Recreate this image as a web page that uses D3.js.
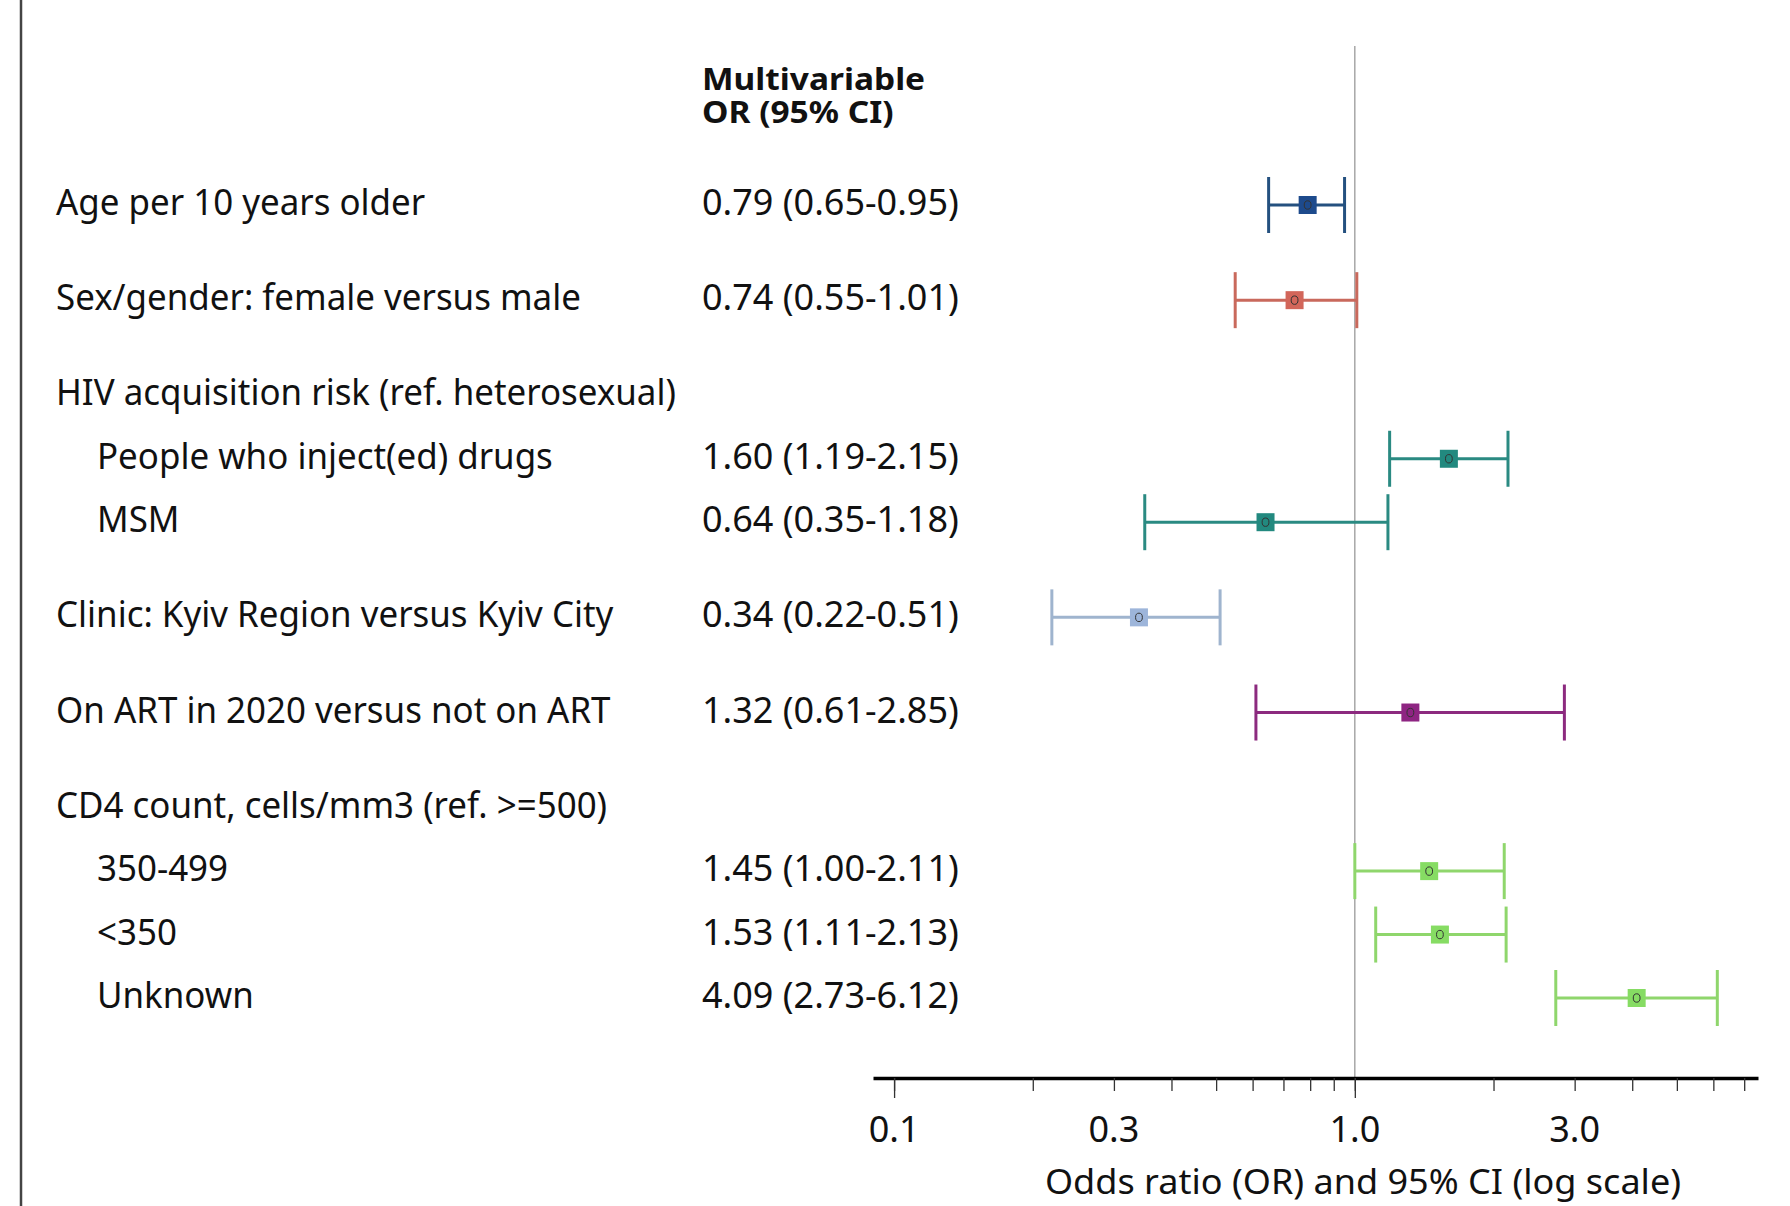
<!DOCTYPE html>
<html>
<head>
<meta charset="utf-8">
<script src="https://cdn.jsdelivr.net/npm/d3@7"></script>
<style>
  html, body { margin: 0; padding: 0; background: #fff; }
  svg { display: block; }
  text { font-family: "Noto Sans", "Open Sans", sans-serif; fill: #111; }
</style>
</head>
<body>
<svg id="chart" width="1790" height="1206"></svg>
<script>
// ---- Data ----
const labels = [
  "Age per 10 years older",
  "Sex/gender: female versus male",
  "HIV acquisition risk (ref. heterosexual)",
  "People who inject(ed) drugs",
  "MSM",
  "Clinic: Kyiv Region versus Kyiv City",
  "On ART in 2020 versus not on ART",
  "CD4 count, cells/mm3 (ref. >=500)",
  "350-499",
  "<350",
  "Unknown"
];
const groups   = [0, 1, 2, 2, 2, 3, 4, 5, 5, 5, 5];
const orValues = [0.79, 0.74, null, 1.60, 0.64, 0.34, 1.32, null, 1.45, 1.53, 4.09];
const ciLow    = [0.65, 0.55, null, 1.19, 0.35, 0.22, 0.61, null, 1.00, 1.11, 2.73];
const ciHigh   = [0.95, 1.01, null, 2.15, 1.18, 0.51, 2.85, null, 2.11, 2.13, 6.12];
const groupLineColors   = ["#24507f", "#c9695c", "#2a8a82", "#9fb4ce", "#8c2a7f", "#8fd66c"];
const groupSquareColors = ["#1d4a8c", "#d2665a", "#22897f", "#9db5da", "#8e2582", "#86dc63"];
const tickLabels = ["0.1", "0.3", "1.0", "3.0"];
const tickLabelValues = [0.1, 0.3, 1.0, 3.0];
const minorTickValues = [0.1,0.2,0.3,0.4,0.5,0.6,0.7,0.8,0.9,1,2,3,4,5,6,7];
const majorTickValues = [0.1, 1];
const headerLines = ["Multivariable", "OR (95% CI)"];
const axisTitle = "Odds ratio (OR) and 95% CI (log scale)";

// ---- Layout ----
const svg = d3.select("#chart");
const fmt = d3.format(".2f");

const rowUnits = [];
let u = 0;
labels.forEach((d, i) => {
  if (i > 0) u += (groups[i] !== groups[i - 1]) ? 1.5 : 1;
  rowUnits.push(u);
});
const y = d3.scaleLinear().domain([0, 12.5]).range([205, 998]);
const x = d3.scaleLog().domain([0.09, 7.5]).range([873, 1758]);

const hasHeader = new Set(groups.filter((g, i) => orValues[i] === null));
const isIndented = labels.map((d, i) => hasHeader.has(groups[i]) && orValues[i] !== null);

// left border
svg.append("line")
  .attr("x1", 21).attr("x2", 21).attr("y1", 0).attr("y2", 1206)
  .attr("stroke", "#444").attr("stroke-width", 2.5);

function condensedText(parent, str, tx, ty, opts) {
  const g = parent.append("g").attr("transform", `translate(${tx},${ty}) scale(${opts.sx},1)`);
  return g.append("text").text(str)
    .attr("font-size", opts.size)
    .attr("font-weight", opts.weight || "normal")
    .attr("text-anchor", opts.anchor || "start");
}

const FS = 36;

// header
headerLines.forEach((s, i) => {
  condensedText(svg, s, 702, 90 + i * 33, {size: 31, weight: "bold", sx: 1.08});
});

// row labels and OR text
labels.forEach((s, i) => {
  const by = y(rowUnits[i]) + 10;
  condensedText(svg, s, isIndented[i] ? 97 : 56, by, {size: FS, sx: 0.97});
  if (orValues[i] !== null) {
    const str = `${fmt(orValues[i])} (${fmt(ciLow[i])}-${fmt(ciHigh[i])})`;
    condensedText(svg, str, 702, by, {size: FS, sx: 1.0});
  }
});

// reference line at 1
svg.append("line")
  .attr("x1", x(1)).attr("x2", x(1)).attr("y1", 46).attr("y2", 1078)
  .attr("stroke", "#9a9a9a").attr("stroke-width", 1.3);

// axis
const axisY = 1078;
const gMinor = svg.append("g").attr("transform", `translate(0,${axisY})`)
  .call(d3.axisBottom(x).tickValues(minorTickValues).tickSize(13).tickSizeOuter(0).tickFormat(""));
gMinor.select(".domain").attr("stroke", "#000").attr("stroke-width", 3.5);
gMinor.selectAll(".tick line").attr("stroke", "#333").attr("stroke-width", 1.3);

const gMajor = svg.append("g").attr("transform", `translate(0,${axisY})`)
  .call(d3.axisBottom(x).tickValues(majorTickValues).tickSize(20).tickSizeOuter(0).tickFormat(""));
gMajor.select(".domain").remove();
gMajor.selectAll(".tick line").attr("stroke", "#333").attr("stroke-width", 1.3);

tickLabelValues.forEach((v, i) => {
  condensedText(svg, tickLabels[i], x(v), 1142, {size: FS, sx: 1.0, anchor: "middle"});
});
condensedText(svg, axisTitle, 1363, 1194, {size: 35, sx: 1.03, anchor: "middle"});

// CI bars
const rows = labels.map((d, i) => ({i, or: orValues[i], lo: ciLow[i], hi: ciHigh[i], g: groups[i]}))
  .filter(d => d.or !== null);
const capH = 28;
const marks = svg.append("g").selectAll("g").data(rows).join("g");
marks.append("line")
  .attr("x1", d => x(d.lo)).attr("x2", d => x(d.hi))
  .attr("y1", d => y(rowUnits[d.i])).attr("y2", d => y(rowUnits[d.i]))
  .attr("stroke", d => groupLineColors[d.g]).attr("stroke-width", 3);
["lo", "hi"].forEach(k => {
  marks.append("line")
    .attr("x1", d => x(d[k])).attr("x2", d => x(d[k]))
    .attr("y1", d => y(rowUnits[d.i]) - capH).attr("y2", d => y(rowUnits[d.i]) + capH)
    .attr("stroke", d => groupLineColors[d.g]).attr("stroke-width", 3);
});
marks.append("rect")
  .attr("x", d => x(d.or) - 9).attr("y", d => y(rowUnits[d.i]) - 9)
  .attr("width", 18).attr("height", 18)
  .attr("fill", d => groupSquareColors[d.g]);
marks.append("ellipse")
  .attr("cx", d => x(d.or)).attr("cy", d => y(rowUnits[d.i]))
  .attr("rx", 3.4).attr("ry", 4.2)
  .attr("fill", "none").attr("stroke", "#333").attr("stroke-width", 1);
</script>
</body>
</html>
